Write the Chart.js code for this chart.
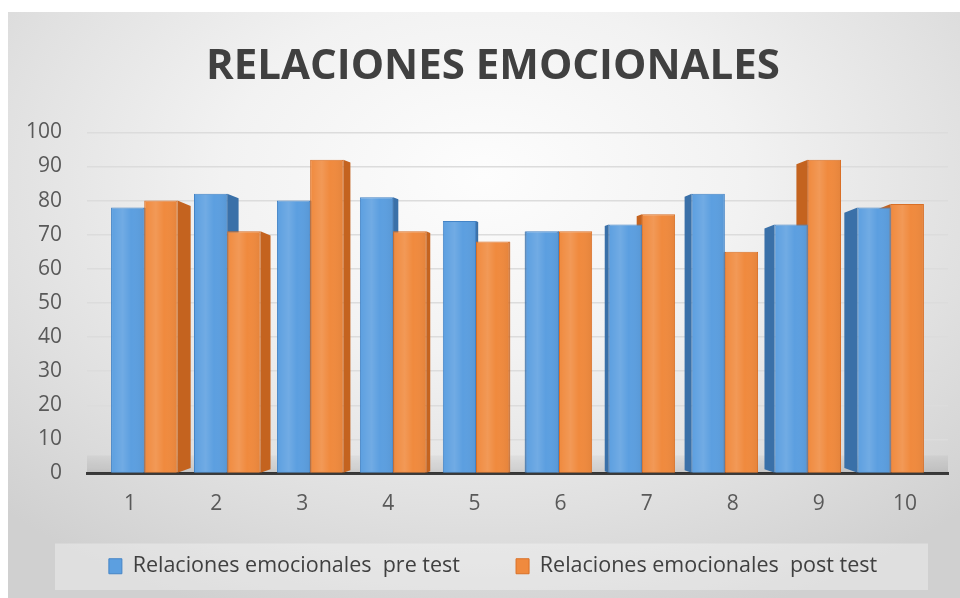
<!DOCTYPE html>
<html><head><meta charset="utf-8">
<script src="https://cdn.jsdelivr.net/npm/chart.js@4.4.1/dist/chart.umd.min.js"></script>
<style>
html,body{margin:0;padding:0;background:#fff;width:960px;height:598px;overflow:hidden}
#wrap{position:absolute;left:8px;top:12px;width:952px;height:586px;
 background: radial-gradient(ellipse 72% 80% at 50% 28%, #fdfdfd 0%, #f2f2f2 38%, #e0e0e0 72%, #d0d0d0 100%);}
canvas{display:block}
</style></head><body>
<div id="wrap"><canvas id="c" width="952" height="586"></canvas></div>
<script>
const titleText = 'RELACIONES EMOCIONALES';
const categories = ['1','2','3','4','5','6','7','8','9','10'];
const seriesNames = ['Relaciones emocionales  pre test', 'Relaciones emocionales  post test'];
const preTest  = [78, 82, 80, 81, 74, 71, 73, 82, 73, 78];
const postTest = [80, 71, 92, 71, 68, 71, 76, 65, 92, 79];
const yMin = 0, yMax = 100, yStep = 10;

const frontColors = ['#5c9fe0', '#f08a3e'];
const edgeColors  = ['#4484c6', '#d96f26'];
const sideColors  = ['#3a70a8', '#c4631f'];
const legendGap = '       ';

Chart.defaults.font.family = "'Open Sans', 'DejaVu Sans', sans-serif";

const depth3d = {
  id: 'depth3d',
  afterLayout(chart) {
    chart.scales.y.left = 0;
  },
  beforeDraw(chart) {
    const lg = chart.legend, ctx = chart.ctx;
    ctx.save();
    ctx.fillStyle = 'rgba(255,255,255,0.32)';
    const x0 = lg.left + 17, x1 = lg.right - 20, y0 = lg.top + 5, y1 = lg.bottom + 3;
    ctx.fillRect(x0, y0, x1 - x0, y1 - y0);
    ctx.restore();
  },
  beforeDatasetsDraw(chart) {
    const ctx = chart.ctx, sx = chart.scales.x, sy = chart.scales.y;
    const left = sx.left, right = sx.right, base = sy.bottom;
    ctx.save();
    const fg = ctx.createLinearGradient(0, base - 18, 0, base);
    fg.addColorStop(0, 'rgba(0,0,0,0.03)');
    fg.addColorStop(1, 'rgba(0,0,0,0.11)');
    ctx.fillStyle = fg;
    ctx.fillRect(left, base - 18, right - left, 18);
    const cx = (left + right) / 2, half = (right - left) / 2;
    chart.data.datasets.forEach((ds, di) => {
      const meta = chart.getDatasetMeta(di);
      meta.data.forEach(bar => {
        const w = bar.width, top = bar.y, bottom = bar.base;
        const d = 16 * (cx - bar.x) / half;
        const edge = d >= 0 ? bar.x + w / 2 : bar.x - w / 2;
        const ad = Math.abs(d);
        ctx.beginPath();
        ctx.moveTo(edge, top);
        ctx.lineTo(edge + d, top + ad * 0.4);
        ctx.lineTo(edge + d, bottom - ad * 0.35);
        ctx.lineTo(edge, bottom);
        ctx.closePath();
        ctx.fillStyle = sideColors[di];
        ctx.fill();
      });
    });
    ctx.restore();
  },
  afterDatasetsDraw(chart) {
    const ctx = chart.ctx;
    ctx.save();
    chart.data.datasets.forEach((ds, di) => {
      chart.getDatasetMeta(di).data.forEach(bar => {
        const l = bar.x - bar.width / 2, r = bar.x + bar.width / 2;
        const g = ctx.createLinearGradient(l, 0, r, 0);
        g.addColorStop(0, 'rgba(255,255,255,0)');
        g.addColorStop(0.35, 'rgba(255,255,255,0.13)');
        g.addColorStop(0.6, 'rgba(255,255,255,0)');
        g.addColorStop(1, 'rgba(0,0,0,0.05)');
        ctx.fillStyle = g;
        ctx.fillRect(l + 1, bar.y + 1, bar.width - 2, bar.base - bar.y - 2);
      });
    });
    ctx.restore();
  }
};

new Chart(document.getElementById('c'), {
  type: 'bar',
  data: {
    labels: categories,
    datasets: [
      { label: seriesNames[0], data: preTest, xAxisID: 'xb',
        backgroundColor: frontColors[0], borderColor: edgeColors[0], borderWidth: 1,
        categoryPercentage: 0.8, barPercentage: 1.0 },
      { label: seriesNames[1], data: postTest, xAxisID: 'xb',
        backgroundColor: frontColors[1], borderColor: edgeColors[1], borderWidth: 1,
        categoryPercentage: 0.8, barPercentage: 1.0 }
    ]
  },
  options: {
    responsive: false, animation: false, devicePixelRatio: 1,
    layout: { padding: { left: 30, right: 12, top: 0, bottom: 11 } },
    plugins: {
      title: { display: true, text: titleText, color: '#404040',
        font: { size: 42, weight: 'bold', lineHeight: 1.2 }, padding: { top: 30, bottom: 40 } },
      legend: { position: 'bottom',
        labels: { color: '#404040', font: { size: 21.5 }, boxWidth: 13, boxHeight: 15, padding: 17,
          generateLabels(chart) {
            const items = Chart.defaults.plugins.legend.labels.generateLabels(chart);
            items.forEach((it, i) => { if (i < items.length - 1) it.text = it.text + legendGap; });
            return items;
          } } },
      tooltip: { enabled: false }
    },
    scales: {
      x: { type: 'category', labels: categories, offset: true, position: 'bottom',
        grid: { display: false, drawTicks: false },
        border: { display: true, color: '#3c3c3c', width: 3 },
        ticks: { color: '#595959', font: { size: 21 }, padding: 18 },
        afterFit(s) { s.height = 65; } },
      xb: { type: 'linear', display: false, offset: false, min: 0.31, max: 10.69,
        grid: { offset: false },
        afterBuildTicks(s) { s.ticks = categories.map((c, i) => ({ value: i + 1 })); } },
      y: { min: yMin, max: yMax,
        ticks: { stepSize: yStep, color: '#595959', font: { size: 21 }, padding: 25 },
        grid: { color: '#dcdcdc', lineWidth: 1.5, drawTicks: false },
        border: { display: false },
        afterFit(s) { s.width = 49; } }
    }
  },
  plugins: [depth3d]
});
</script>
</body></html>
